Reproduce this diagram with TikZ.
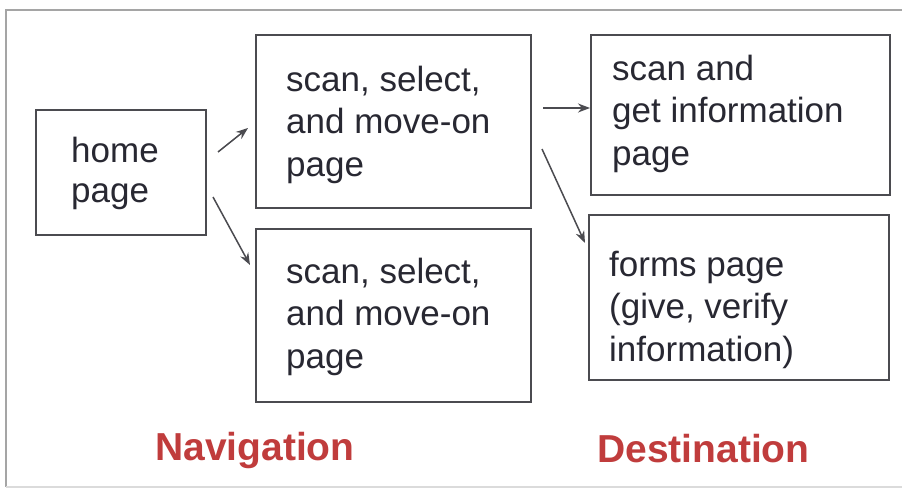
\documentclass[tikz,border=0pt]{standalone}
\usepackage{fontspec}
\setmainfont{Liberation Sans}
\usetikzlibrary{arrows.meta}
\definecolor{txtcol}{RGB}{40,40,50}
\definecolor{lblcol}{RGB}{192,60,60}
\definecolor{framecol}{RGB}{165,165,165}
\definecolor{edgecol}{RGB}{75,75,80}
\begin{document}
\begin{tikzpicture}[x=1pt,y=-1pt,
  pagebox/.style={draw=edgecol, line width=1.5pt, inner sep=0pt, outer sep=0pt},
  bodytext/.style={text=txtcol, font=\fontsize{35}{42.5}\selectfont, align=left, anchor=north west, inner sep=0pt},
  grouplabel/.style={text=lblcol, font=\bfseries\fontsize{39}{44}\selectfont, anchor=base west, inner sep=0pt},
  link/.style={draw=edgecol, line width=1.5pt, -{Stealth[length=12pt,width=9pt]}}]
\useasboundingbox (0,0) rectangle (902,489);
\fill[white] (0,0) rectangle (902,489);
\draw[framecol, line width=1.5pt] (906,10) -- (6,10) -- (6,487);
\draw[framecol!40, line width=1.5pt] (6,487) -- (906,487);

% boxes
\node[pagebox, minimum width=170pt, minimum height=125pt] (home) at (121,172.5) {};
\node[pagebox, minimum width=275pt, minimum height=173pt] (navtop) at (393.5,121.5) {};
\node[pagebox, minimum width=275pt, minimum height=173pt] (navbot) at (393.5,315.5) {};
\node[pagebox, minimum width=299pt, minimum height=160pt] (desttop) at (740.5,115) {};
\node[pagebox, minimum width=300pt, minimum height=165pt] (destbot) at (739,297.5) {};

% texts
\node[bodytext, font=\fontsize{35}{40}\selectfont] (hometxt) at (71,137) {home\\page};
\node[bodytext] (navtoptxt) at (286,65.5) {scan, select,\\and move-on\\page};
\node[bodytext] (navbottxt) at (286,257.5) {scan, select,\\and move-on\\page};
\node[bodytext] (desttoptxt) at (612,54.5) {scan and\\get information\\page};
\node[bodytext] (destbottxt) at (609,250.5) {forms page\\(give, verify\\information)};

% group labels
\node[grouplabel] (navlbl) at (155,460) {Navigation};
\node[grouplabel] (destlbl) at (597,462) {Destination};

% arrows
\coordinate (a1s) at (218,152); \coordinate (a1e) at (248,128);
\coordinate (a2s) at (213,197); \coordinate (a2e) at (250,265);
\coordinate (a3s) at (543,108); \coordinate (a3e) at (590,108);
\coordinate (a4s) at (542,149); \coordinate (a4e) at (585,243);
\draw[link] (a1s) -- (a1e);
\draw[link] (a2s) -- (a2e);
\draw[link] (a3s) -- (a3e);
\draw[link] (a4s) -- (a4e);
\end{tikzpicture}
\end{document}
